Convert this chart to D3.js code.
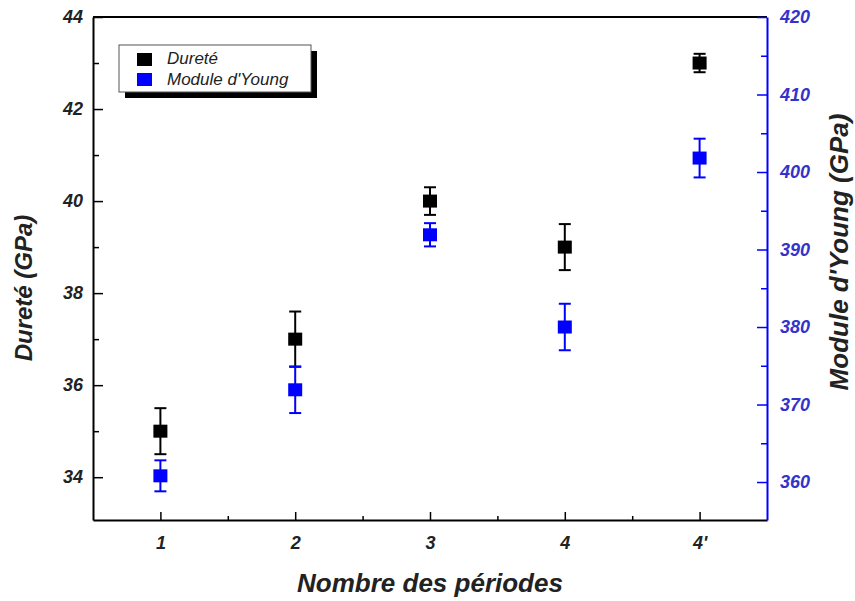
<!DOCTYPE html>
<html>
<head>
<meta charset="utf-8">
<script src="https://cdn.jsdelivr.net/npm/d3@7"></script>
<style>
  body { margin: 0; background: #fff; }
  svg { font-family: "Liberation Sans", Arial, sans-serif; }
  .tick text { font-weight: bold; font-style: italic; }
</style>
</head>
<body>
<div id="chart"></div>
<script>
// data
const periods = ["1", "2", "3", "4", "4'"];
const durete = [35.0, 37.0, 40.0, 39.0, 43.0];
const dureteErr = [0.5, 0.6, 0.3, 0.5, 0.2];
const young = [360.8, 371.9, 391.9, 380.0, 401.8];
const youngErr = [2.0, 3.0, 1.5, 3.0, 2.5];
const leftTicks = [34, 36, 38, 40, 42, 44];
const rightTicks = [360, 370, 380, 390, 400, 410, 420];

const width = 855, height = 601;
const margin = {top: 17, right: 88, bottom: 81, left: 93};
const blue = "#0000ff";

const svg = d3.select("#chart").append("svg")
  .attr("width", width)
  .attr("height", height);

const x = d3.scaleLinear().domain([0.5, periods.length + 0.5]).range([margin.left, width - margin.right]);
const yL = d3.scaleLinear().domain([33.07, 44]).range([height - margin.bottom, margin.top]);
const yR = d3.scaleLinear().domain([355.1, 420]).range([height - margin.bottom, margin.top]);

const pos = periods.map((p, i) => i + 1);

// top frame line
svg.append("line")
  .attr("x1", margin.left).attr("x2", width - margin.right)
  .attr("y1", margin.top).attr("y2", margin.top)
  .attr("stroke", "#000").attr("stroke-width", 2);

// minor ticks
svg.append("g")
  .attr("transform", `translate(0,${height - margin.bottom})`)
  .call(d3.axisBottom(x).tickValues(d3.range(1.5, periods.length, 1)).tickSize(-4).tickFormat(""))
  .call(g => g.select(".domain").remove());
svg.append("g")
  .attr("transform", `translate(${margin.left},0)`)
  .call(d3.axisLeft(yL).tickValues([35, 37, 39, 41, 43]).tickSize(-6).tickFormat(""))
  .call(g => g.select(".domain").remove());
svg.append("g")
  .attr("transform", `translate(${width - margin.right},0)`)
  .call(d3.axisRight(yR).tickValues([365, 375, 385, 395, 405, 415]).tickSize(-6).tickFormat(""))
  .call(g => g.select(".domain").remove())
  .call(g => g.selectAll("line").attr("stroke", blue));

// main axes
const xAxis = svg.append("g")
  .attr("transform", `translate(0,${height - margin.bottom})`)
  .call(d3.axisBottom(x).tickValues(pos).tickSize(-8).tickPadding(16).tickFormat((d, i) => periods[i]).tickSizeOuter(0));
xAxis.selectAll("text").attr("font-size", 18).attr("fill", "#222");

const lAxis = svg.append("g")
  .attr("transform", `translate(${margin.left},0)`)
  .call(d3.axisLeft(yL).tickValues(leftTicks).tickSize(-10).tickPadding(10).tickSizeOuter(0));
lAxis.selectAll("text").attr("font-size", 18).attr("fill", "#222");

const rAxis = svg.append("g")
  .attr("transform", `translate(${width - margin.right},0)`)
  .call(d3.axisRight(yR).tickValues(rightTicks).tickSize(-10).tickPadding(13).tickSizeOuter(0));
rAxis.selectAll("text").attr("font-size", 18).attr("fill", "#3333cc");
rAxis.selectAll("line").attr("stroke", blue);
rAxis.select(".domain").attr("stroke", blue);

svg.selectAll(".domain").attr("stroke-width", 2);
svg.selectAll(".tick line").attr("stroke-width", 1.5);

// series with error bars
function drawSeries(vals, errs, scale, color) {
  const g = svg.append("g");
  const cap = 6, sz = 14;
  vals.forEach((v, i) => {
    const cx = x(pos[i]);
    g.append("line").attr("x1", cx).attr("x2", cx)
      .attr("y1", scale(v - errs[i])).attr("y2", scale(v + errs[i]))
      .attr("stroke", color).attr("stroke-width", 2);
    [v - errs[i], v + errs[i]].forEach(e => {
      g.append("line").attr("x1", cx - cap).attr("x2", cx + cap)
        .attr("y1", scale(e)).attr("y2", scale(e))
        .attr("stroke", color).attr("stroke-width", 2);
    });
    g.append("rect")
      .attr("x", cx - sz / 2).attr("y", scale(v) - sz / 2 + 0.5)
      .attr("width", sz).attr("height", sz - 1)
      .attr("fill", color);
  });
}
drawSeries(durete, dureteErr, yL, "#000");
drawSeries(young, youngErr, yR, blue);

// legend
const lg = svg.append("g").attr("transform", "translate(119,45)");
lg.append("rect").attr("x", 6).attr("y", 6).attr("width", 192).attr("height", 47).attr("fill", "#000");
lg.append("rect").attr("width", 192).attr("height", 47).attr("fill", "#fff").attr("stroke", "#555").attr("stroke-width", 1);
const legendItems = [{label: "Dureté", color: "#000"}, {label: "Module d'Young", color: blue}];
legendItems.forEach((d, i) => {
  lg.append("rect").attr("x", 18).attr("y", 8 + i * 20).attr("width", 15).attr("height", 13).attr("fill", d.color);
  lg.append("text").attr("x", 48).attr("y", 19 + i * 21)
    .attr("font-size", 17).attr("font-style", "italic").attr("fill", "#222")
    .text(d.label);
});

// axis titles
svg.append("text")
  .attr("transform", `translate(32,288) rotate(-90)`)
  .attr("text-anchor", "middle")
  .attr("font-size", 24).attr("font-weight", "bold").attr("font-style", "italic").attr("fill", "#222")
  .text("Dureté (GPa)");
svg.append("text")
  .attr("transform", `translate(848,252) rotate(-90)`)
  .attr("text-anchor", "middle")
  .attr("font-size", 26).attr("font-weight", "bold").attr("font-style", "italic").attr("fill", "#222")
  .text("Module d'Young (GPa)");
svg.append("text")
  .attr("x", 430).attr("y", 592)
  .attr("text-anchor", "middle")
  .attr("font-size", 26).attr("font-weight", "bold").attr("font-style", "italic").attr("fill", "#222")
  .text("Nombre des périodes");
</script>
</body>
</html>
